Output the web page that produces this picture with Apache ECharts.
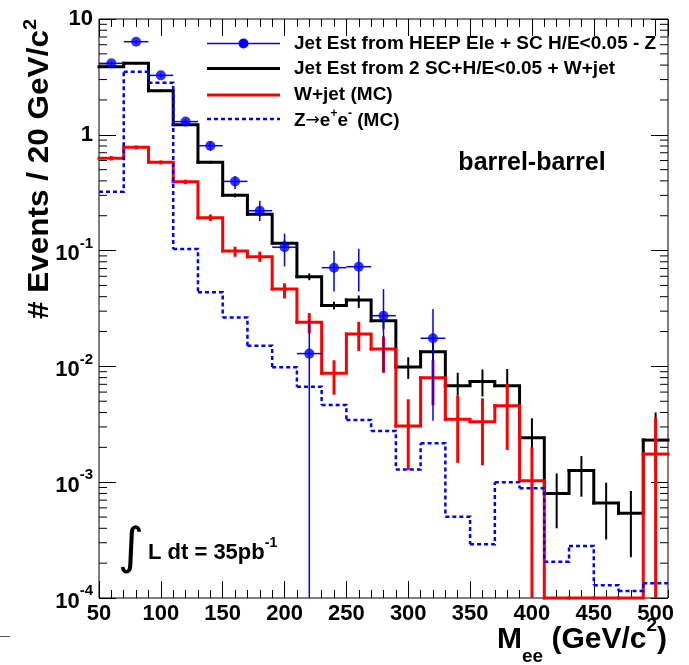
<!DOCTYPE html>
<html>
<head>
<meta charset="utf-8">
<script src="https://cdn.jsdelivr.net/npm/echarts@6/dist/echarts.min.js"></script>
<style>
html,body{margin:0;padding:0;background:#fff;}
#chart{width:689px;height:665px;}
</style>
</head>
<body>
<div id="chart"></div>
<script>
// ---------------- data ----------------
const binCenters = [60, 80, 100, 120, 140, 160, 180, 200, 220, 240, 260, 280, 300, 320, 340, 360, 380, 400, 420, 440, 460, 480, 500];
const binWidth = 20;

// Jet Est from 2 SC+H/E<0.05 + W+jet (black histogram)
const jetEst2SC    = [3.87, 4.14, 2.40, 1.22, 0.579, 0.300, 0.206, 0.116, 0.0595, 0.0335, 0.0374, 0.0248, 0.0099, 0.0134, 0.0068, 0.0074, 0.0068, 0.00242, 0.00080, 0.00126, 0.00066, 0.00054, 0.00231];
const jetEst2SCLo  = [3.80, 4.05, 2.34, 1.19, 0.562, 0.288, 0.197, 0.110, 0.0555, 0.0310, 0.0320, 0.0210, 0.0078, 0.0110, 0.0056, 0.0055, 0.0050, 0.00160, 0.00040, 0.00075, 0.00032, 0.000225, 0.00120];
const jetEst2SCHi  = [3.95, 4.23, 2.46, 1.25, 0.596, 0.312, 0.215, 0.122, 0.0635, 0.0362, 0.0410, 0.0290, 0.0120, 0.0165, 0.0088, 0.0094, 0.0095, 0.00356, 0.00119, 0.00168, 0.00099, 0.00084, 0.00400];

// W+jet (MC) (red histogram)
const wjetMC   = [0.627, 0.780, 0.579, 0.393, 0.192, 0.0993, 0.0885, 0.0466, 0.0240, 0.00872, 0.0190, 0.0141, 0.00306, 0.00798, 0.00349, 0.00333, 0.00458, 0.00103, 0, 0, 0, 0, 0.00175];
const wjetMCLo = [0.600, 0.750, 0.555, 0.375, 0.180, 0.0885, 0.0800, 0.0386, 0.0193, 0.0057, 0.0136, 0.0088, 0.00127, 0.0046, 0.00147, 0.00140, 0.00190, 0, 0, 0, 0, 0, 0];
const wjetMCHi = [0.655, 0.810, 0.600, 0.410, 0.205, 0.1080, 0.0980, 0.0522, 0.0289, 0.0113, 0.0243, 0.0181, 0.00520, 0.0113, 0.00560, 0.00530, 0.00710, 0.00200, 0, 0, 0, 0, 0.00360];

// Z->ee (MC) (blue dotted histogram)
const zeeMC = [0.323, 3.51, 2.82, 0.103, 0.0436, 0.0264, 0.0151, 0.00982, 0.00668, 0.00464, 0.00344, 0.00277, 0.00129, 0.00217, 0.000504, 0.000291, 0.000998, 0.000886, 0.000206, 0.000281, 0.000129, 0.000115, 0.000134];

// Jet Est from HEEP Ele + SC H/E<0.05 - Z (blue points)
const heepX  = [60, 80, 100, 120, 140, 160, 180, 200, 220, 240, 260, 280, 320];
const heepY  = [4.14, 6.37, 3.26, 1.30, 0.805, 0.396, 0.221, 0.107, 0.0129, 0.0712, 0.0726, 0.0274, 0.0175];
const heepLo = [4.00, 6.10, 3.10, 1.22, 0.730, 0.340, 0.180, 0.073, 0, 0.0444, 0.0444, 0.0090, 0.0034];
const heepHi = [4.30, 6.60, 3.40, 1.38, 0.880, 0.440, 0.270, 0.140, 0.025, 0.0997, 0.1040, 0.0465, 0.0313];

const xTickLabels = ['50','100','150','200','250','300','350','400','450','500'];
const legendLabels = ['Jet Est from HEEP Ele + SC H/E<0.05 - Z', 'Jet Est from 2 SC+H/E<0.05 + W+jet', 'W+jet (MC)'];

// ---------------- chart ----------------
const xMin = 50, xMax = 510, yMin = 1e-4, yMax = 10;
const FONT = '"Liberation Sans", Arial, Helvetica, sans-serif';
const BLUE = '#0000ff', RED = '#ff0000', BLACK = '#000000';

function fl(v) { return (v > yMin) ? v : yMin; }

function histData(vals) {
  return binCenters.map((c, i) => [c - binWidth / 2, c + binWidth / 2, vals[i], (i + 1 < vals.length) ? vals[i + 1] : -1]);
}
function histSeries(name, vals, color, width, dash, z) {
  return {
    name: name, type: 'custom', xAxisIndex: 0, yAxisIndex: 0, z: z, clip: false,
    data: histData(vals),
    renderItem: function (params, api) {
      const lo = api.value(0), hi = api.value(1), v = fl(api.value(2)), nx = api.value(3);
      const pts = [api.coord([lo, v]), api.coord([hi, v])];
      if (nx >= 0) pts.push(api.coord([hi, fl(nx)]));
      return { type: 'polyline', shape: { points: pts },
        style: { stroke: color, lineWidth: width, fill: null, lineDash: dash, lineCap: dash ? 'butt' : 'square', lineJoin: 'miter' } };
    }
  };
}
function errSeries(xs, los, his, color, width, z) {
  const data = [];
  xs.forEach((x, i) => { if (his[i] > 0) data.push([x, los[i], his[i]]); });
  return {
    type: 'custom', xAxisIndex: 0, yAxisIndex: 0, z: z, clip: true, data: data,
    renderItem: function (params, api) {
      const x = api.value(0);
      const p = api.coord([x, fl(api.value(1))]), q = api.coord([x, fl(api.value(2))]);
      return { type: 'line', shape: { x1: p[0], y1: p[1], x2: q[0], y2: q[1] }, style: { stroke: color, lineWidth: width } };
    }
  };
}

const minorYVals = [];
for (let k = -4; k <= 0; k++) for (let m = 2; m <= 9; m++) minorYVals.push([m * Math.pow(10, k)]);

const xCommon = { type: 'value', min: xMin, max: xMax, splitLine: { show: false }, axisLine: { show: false } };

const option = {
  animation: false,
  backgroundColor: '#ffffff',
  grid: { left: 99, right: 21, top: 19, bottom: 67, show: true, borderColor: BLACK, borderWidth: 1, backgroundColor: 'transparent', containLabel: false },
  xAxis: [
    Object.assign({}, xCommon, {
      position: 'bottom', interval: 50,
      axisTick: { inside: true, length: 17, lineStyle: { color: BLACK, width: 1 } },
      axisLabel: { show: true, margin: 5, showMaxLabel: false, color: BLACK, fontFamily: FONT, fontWeight: 'bold', fontSize: 22,
        formatter: function (v) { const i = Math.round((v - 50) / 50); return (i >= 0 && i < xTickLabels.length && Math.abs(v - 50 - i * 50) < 1e-6) ? xTickLabels[i] : ''; } }
    }),
    Object.assign({}, xCommon, { position: 'bottom', interval: 10, axisLabel: { show: false }, axisTick: { inside: true, length: 8, lineStyle: { color: BLACK, width: 1 } } }),
    Object.assign({}, xCommon, { position: 'top', interval: 50, axisLabel: { show: false }, axisTick: { inside: true, length: 17, lineStyle: { color: BLACK, width: 1 } } }),
    Object.assign({}, xCommon, { position: 'top', interval: 10, axisLabel: { show: false }, axisTick: { inside: true, length: 8, lineStyle: { color: BLACK, width: 1 } } })
  ],
  yAxis: [
    { type: 'log', logBase: 10, min: yMin, max: yMax, position: 'left', splitNumber: 5,
      splitLine: { show: false }, axisLine: { show: false },
      axisTick: { inside: true, length: 17, lineStyle: { color: BLACK, width: 1 } },
      axisLabel: { margin: 6, color: BLACK,
        formatter: function (v) {
          const e = Math.round(Math.log10(v));
          if (e === 0) return '{n|1}';
          if (e === 1) return '{n|10}';
          return '{b|10}{s|' + e + '}';
        },
        rich: {
          n: { fontFamily: FONT, fontWeight: 'bold', fontSize: 22, color: BLACK },
          b: { fontFamily: FONT, fontWeight: 'bold', fontSize: 22, color: BLACK, padding: [7, 0, 0, 0] },
          s: { fontFamily: FONT, fontWeight: 'bold', fontSize: 15, color: BLACK, verticalAlign: 'top' }
        }
      }
    },
    { type: 'log', logBase: 10, min: yMin, max: yMax, position: 'right', splitNumber: 5,
      splitLine: { show: false }, axisLine: { show: false }, axisLabel: { show: false },
      axisTick: { inside: true, length: 17, lineStyle: { color: BLACK, width: 1 } } }
  ],
  series: [
    histSeries('Jet Est from 2 SC+H/E<0.05 + W+jet', jetEst2SC, BLACK, 3, null, 3),
    errSeries(binCenters, jetEst2SCLo, jetEst2SCHi, BLACK, 2, 3),
    histSeries('W+jet (MC)', wjetMC, RED, 3, null, 4),
    errSeries(binCenters, wjetMCLo, wjetMCHi, RED, 3, 4),
    histSeries('Z->ee (MC)', zeeMC, BLUE, 2.5, [4, 3], 5),
    errSeries(heepX, heepLo, heepHi, BLUE, 1.5, 6),
    { type: 'custom', xAxisIndex: 0, yAxisIndex: 0, z: 6, clip: true,
      data: heepX.map((x, i) => [x, heepY[i]]),
      renderItem: function (params, api) {
        const x = api.value(0), v = api.value(1);
        const p = api.coord([x - binWidth / 2, v]), q = api.coord([x + binWidth / 2, v]);
        return { type: 'line', shape: { x1: p[0], y1: p[1], x2: q[0], y2: q[1] }, style: { stroke: BLUE, lineWidth: 1.5 } };
      }
    },
    { name: 'Jet Est from HEEP Ele + SC H/E<0.05 - Z', type: 'scatter', xAxisIndex: 0, yAxisIndex: 0, z: 7,
      symbol: 'circle', symbolSize: 10, itemStyle: { color: BLUE }, data: heepX.map((x, i) => [x, heepY[i]]) },
    { type: 'custom', xAxisIndex: 0, yAxisIndex: 0, z: 9, silent: true, clip: false,
      data: minorYVals,
      renderItem: function (params, api) {
        const v = api.value(0);
        const p = api.coord([xMin, v]), q = api.coord([xMax, v]);
        return { type: 'group', children: [
          { type: 'line', shape: { x1: p[0], y1: p[1], x2: p[0] + 8, y2: p[1] }, style: { stroke: BLACK, lineWidth: 1 } },
          { type: 'line', shape: { x1: q[0] - 8, y1: q[1], x2: q[0], y2: q[1] }, style: { stroke: BLACK, lineWidth: 1 } }
        ] };
      }
    }
  ],
  graphic: [
    // legend
    { type: 'line', shape: { x1: 207, y1: 43.5, x2: 280, y2: 43.5 }, style: { stroke: BLUE, lineWidth: 1.5 }, z: 20 },
    { type: 'circle', shape: { cx: 243.5, cy: 43.5, r: 5 }, style: { fill: BLUE }, z: 20 },
    { type: 'line', shape: { x1: 207, y1: 68.5, x2: 280, y2: 68.5 }, style: { stroke: BLACK, lineWidth: 3 }, z: 20 },
    { type: 'line', shape: { x1: 207, y1: 95, x2: 280, y2: 95 }, style: { stroke: RED, lineWidth: 3 }, z: 20 },
    { type: 'line', shape: { x1: 207, y1: 119, x2: 280, y2: 119 }, style: { stroke: BLUE, lineWidth: 2.5, lineDash: [4, 3] }, z: 20 },
    { type: 'text', x: 294, y: 44, z: 20, style: { text: legendLabels[0], font: 'bold 19px ' + FONT, fill: BLACK, textVerticalAlign: 'middle' } },
    { type: 'text', x: 294, y: 69, z: 20, style: { text: legendLabels[1], font: 'bold 19px ' + FONT, fill: BLACK, textVerticalAlign: 'middle' } },
    { type: 'text', x: 294, y: 95, z: 20, style: { text: legendLabels[2], font: 'bold 19px ' + FONT, fill: BLACK, textVerticalAlign: 'middle' } },
    { type: 'text', x: 294, y: 119, z: 20, style: { text: '{m|Z}{a|\u2192}{m|e}{s|+}{m|e}{s|-}{m| (MC)}', fill: BLACK, textVerticalAlign: 'middle',
        rich: { m: { fontFamily: FONT, fontWeight: 'bold', fontSize: 19, padding: [4, 0, 0, 0] },
                a: { fontFamily: '"DejaVu Sans", sans-serif', fontWeight: 'normal', fontSize: 17, padding: [4, 0, 0, 0] },
                s: { fontFamily: FONT, fontWeight: 'bold', fontSize: 12, verticalAlign: 'top' } } } },
    // annotation
    { type: 'text', x: 532, y: 163, z: 20, style: { text: 'barrel-barrel', font: 'bold 25px ' + FONT, fill: BLACK, textAlign: 'center', textVerticalAlign: 'middle' } },
    { type: 'text', x: 131, y: 550, z: 20, style: { text: '\u222B', font: '50px "DejaVu Sans", ' + FONT, fill: BLACK, textAlign: 'center', textVerticalAlign: 'middle' } },
    { type: 'text', x: 148, y: 550, z: 20, style: { text: '{m|L dt = 35pb}{s|-1}', fill: BLACK, textVerticalAlign: 'middle',
        rich: { m: { fontFamily: FONT, fontWeight: 'bold', fontSize: 22, padding: [6, 0, 0, 0] }, s: { fontFamily: FONT, fontWeight: 'bold', fontSize: 14, verticalAlign: 'top' } } } },
    // axis titles
    { type: 'text', x: 38, y: 19, rotation: Math.PI / 2, scaleX: 1.05, z: 20, style: { text: '{m|# Events / 20 GeV/c}{s|2}', fill: BLACK, textAlign: 'right', textVerticalAlign: 'middle',
        rich: { m: { fontFamily: FONT, fontWeight: 'bold', fontSize: 30, padding: [4, 0, 0, 0] }, s: { fontFamily: FONT, fontWeight: 'bold', fontSize: 19, verticalAlign: 'top' } } } },
    { type: 'text', x: 667, y: 641, z: 20, style: { text: '{m|M}{d|ee}{m| (GeV/c}{s|2}{m|)}', fill: BLACK, textAlign: 'right', textVerticalAlign: 'middle',
        rich: { m: { fontFamily: FONT, fontWeight: 'bold', fontSize: 30, padding: [9, 0, 11, 0] }, s: { fontFamily: FONT, fontWeight: 'bold', fontSize: 19, verticalAlign: 'top' },
                d: { fontFamily: FONT, fontWeight: 'bold', fontSize: 19, verticalAlign: 'bottom' } } } },
    // stray tick at the lower-left margin
    { type: 'line', shape: { x1: 0, y1: 636.5, x2: 10, y2: 636.5 }, style: { stroke: '#555', lineWidth: 1 }, z: 20 }
  ]
};

const chart = echarts.init(document.getElementById('chart'), null, { renderer: 'canvas' });
chart.setOption(option);
</script>
</body>
</html>
